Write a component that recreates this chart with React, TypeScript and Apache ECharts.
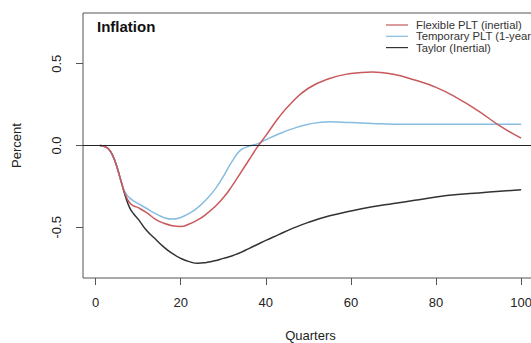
import React, { useEffect, useRef } from "react";
import * as echarts from "echarts";

const quarters = [1,2,3,4,5,6,7,8,9,10,12,14,16,18,20,22,24,26,28,30,32,34,36,38,40,43,46,50,55,60,65,70,75,80,85,90,95,100];
const flexiblePLT = [0,-0.005,-0.02,-0.06,-0.13,-0.22,-0.30,-0.35,-0.37,-0.38,-0.41,-0.45,-0.475,-0.49,-0.495,-0.48,-0.455,-0.42,-0.375,-0.32,-0.25,-0.17,-0.09,-0.01,0.06,0.17,0.26,0.35,0.41,0.44,0.45,0.435,0.40,0.355,0.29,0.21,0.12,0.045];
const temporaryPLT = [0,-0.005,-0.02,-0.06,-0.13,-0.22,-0.29,-0.32,-0.34,-0.355,-0.385,-0.415,-0.44,-0.45,-0.44,-0.415,-0.38,-0.33,-0.27,-0.19,-0.10,-0.03,-0.005,0.01,0.035,0.07,0.10,0.13,0.145,0.14,0.135,0.13,0.13,0.13,0.13,0.13,0.13,0.13];
const taylor = [0,-0.005,-0.02,-0.06,-0.13,-0.22,-0.31,-0.38,-0.42,-0.45,-0.52,-0.57,-0.62,-0.66,-0.69,-0.71,-0.72,-0.715,-0.705,-0.69,-0.675,-0.655,-0.63,-0.605,-0.58,-0.545,-0.51,-0.47,-0.43,-0.40,-0.375,-0.355,-0.335,-0.315,-0.30,-0.29,-0.28,-0.27];
const xTicks = [0, 20, 40, 60, 80, 100];
const yTicks = [-0.5, 0, 0.5];
const seriesNames = ["Flexible PLT (inertial)", "Temporary PLT (1-year)", "Taylor (Inertial)"];
const seriesColors = ["#c9595b", "#86bde0", "#333333"];

export default function App() {
  const ref = useRef<HTMLDivElement>(null);
  useEffect(() => {
    if (!ref.current) return;
    const chart = echarts.init(ref.current, null, { renderer: "svg" });
    const pair = (ys: number[]) => quarters.map((q, i) => [q, ys[i]]);
    const allData = [flexiblePLT, temporaryPLT, taylor];
    const font = "Liberation Sans, Arial, sans-serif";
    chart.setOption({
      animation: false,
      backgroundColor: "#ffffff",
      grid: {
        left: 83, top: 13, right: 7, bottom: 65,
        outerBoundsMode: "none", containLabel: false,
        show: true, borderColor: "#555555", borderWidth: 1, backgroundColor: "transparent",
      },
      xAxis: {
        type: "value", min: -2.96, max: 103.96,
        name: "Quarters", nameLocation: "middle", nameGap: 51,
        nameTextStyle: { fontFamily: font, fontSize: 13, color: "#222" },
        axisLine: { show: false, onZero: false },
        splitLine: { show: false },
        axisTick: { show: true, length: 7, customValues: xTicks, lineStyle: { color: "#555" } },
        axisLabel: { customValues: xTicks, margin: 18, fontFamily: font, fontSize: 13, color: "#222" },
      },
      yAxis: {
        type: "value", min: -0.81, max: 0.81,
        name: "Percent", nameLocation: "middle", nameGap: 60, nameRotate: 90,
        nameTextStyle: { fontFamily: font, fontSize: 13, color: "#222" },
        axisLine: { show: false, onZero: false },
        splitLine: { show: false },
        axisTick: { show: true, length: 7, customValues: yTicks, lineStyle: { color: "#555" } },
        axisLabel: {
          customValues: yTicks, rotate: 90, margin: 20, fontFamily: font, fontSize: 13, color: "#222",
          formatter: (v: number) => v.toFixed(1),
        },
      },
      series: allData.map((d, i) => ({
        name: seriesNames[i],
        type: "line",
        data: pair(d),
        smooth: 0.5,
        showSymbol: false,
        lineStyle: { color: seriesColors[i], width: 1.5 },
        z: 3 - i,
        markLine: i === 0 ? {
          silent: true, symbol: "none", label: { show: false },
          lineStyle: { color: "#222", width: 1, type: "solid" },
          data: [{ yAxis: 0 }],
        } : undefined,
      })),
      graphic: [
        { type: "text", left: 97, top: 19, style: { text: "Inflation", font: `bold 15px ${font}`, fill: "#111" } },
        ...seriesNames.flatMap((n, i) => [
          { type: "line", shape: { x1: 386, y1: 25 + i * 11.3, x2: 408, y2: 25 + i * 11.3 }, style: { stroke: seriesColors[i], lineWidth: 1.2 } },
          { type: "text", x: 416, y: 25 + i * 11.3, style: { text: n, font: `11.3px ${font}`, fill: "#333", textVerticalAlign: "middle" } },
        ]),
      ],
    });
    return () => chart.dispose();
  }, []);
  return (
    <div style={{ position: "fixed", left: 0, top: 0, width: 531, height: 343, overflow: "hidden" }}>
      <div ref={ref} style={{ width: 545, height: 343 }} />
    </div>
  );
}
